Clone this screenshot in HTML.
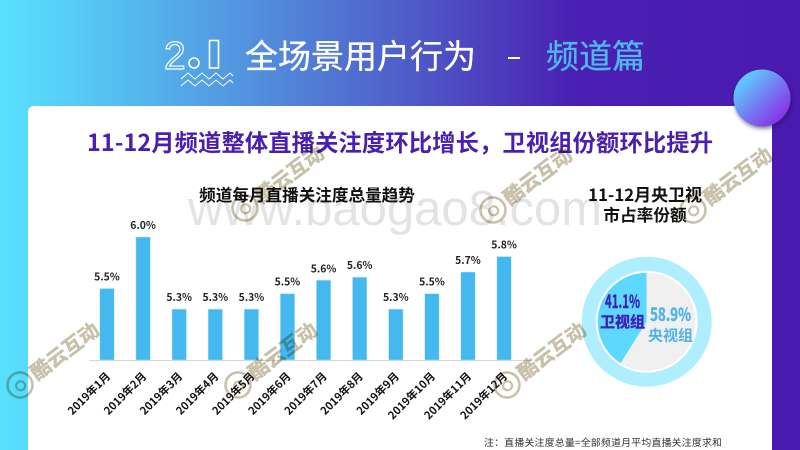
<!DOCTYPE html>
<html lang="zh-CN">
<head>
<meta charset="utf-8">
<title>全场景用户行为 - 频道篇</title>
<style>
html,body{margin:0;padding:0;width:800px;height:450px;overflow:hidden;background:#4a1ab0}
svg{display:block}
text{font-family:"Noto Sans CJK SC","Liberation Sans",sans-serif}
#watermarks,#siteWatermark{mix-blend-mode:multiply}
</style>
</head>
<body>
<svg id="stage" xmlns="http://www.w3.org/2000/svg" width="800" height="450" viewBox="0 0 800 450">
  <defs>
    <linearGradient id="bgGrad" x1="0" y1="0" x2="1" y2="0">
      <stop offset="0" stop-color="#58e2ff"/>
      <stop offset="0.15" stop-color="#55bdf0"/>
      <stop offset="0.5" stop-color="#4f5fc9"/>
      <stop offset="0.72" stop-color="#4a1fb2"/>
      <stop offset="1" stop-color="#4a1ab0"/>
    </linearGradient>
    <linearGradient id="ballGrad" x1="0.1" y1="0.1" x2="0.9" y2="0.9">
      <stop offset="0" stop-color="#5cd8ff"/>
      <stop offset="1" stop-color="#8a28e6"/>
    </linearGradient>
    <filter id="ballShadow" x="-30%" y="-30%" width="170%" height="170%">
      <feDropShadow dx="1" dy="2" stdDeviation="2" flood-color="#1a0a50" flood-opacity="0.6"/>
    </filter>
  </defs>

  <rect x="0" y="0" width="800" height="450" fill="url(#bgGrad)"/>

  <g fill="none" stroke="#fff">
    <text x="164" y="69" font-size="39" stroke-width="1.2" fill="none" stroke="#fff" style="font-family:'Liberation Sans',sans-serif">2</text>
    <circle cx="194" cy="63" r="5" stroke-width="1.6"/>
    <rect x="209.5" y="40.5" width="9" height="27.5" stroke-width="1.6"/>
    <polyline stroke-width="1" points="181,79 188,73 195,79 202,73 209,79 216,73 223,79 230,73 233,76"/>
    <polyline stroke-width="1" points="181,86 188,80 195,86 202,80 209,86 216,80 223,86 230,80 233,83"/>
  </g>

  <text x="245" y="68" font-size="33" fill="#ffffff" stroke="#ffffff" stroke-width="0.3">全场景用户行为</text>
  <rect x="508" y="57" width="12" height="2" fill="#ffffff"/>
  <text x="546" y="68" font-size="33" fill="#4fb6ee" stroke="#4fb6ee" stroke-width="0.3">频道篇</text>

  <rect x="28" y="106" width="744" height="360" rx="6" fill="#ffffff"/>
  <circle cx="762" cy="98" r="28.5" fill="url(#ballGrad)" filter="url(#ballShadow)"/>

  <text x="87" y="151" font-size="23.3" font-weight="700" fill="#4a1fb0" textLength="626" lengthAdjust="spacing">11-12月频道整体直播关注度环比增长&#xFF0C;卫视组份额环比提升</text>

  <text x="307" y="201" font-size="16.6" font-weight="700" fill="#111" text-anchor="middle">频道每月直播关注度总量趋势</text>
  <text x="588" y="201" font-size="17" font-weight="700" fill="#111" textLength="114" lengthAdjust="spacing">11-12月央卫视</text>
  <text x="645" y="221" font-size="16.7" font-weight="700" fill="#111" text-anchor="middle">市占率份额</text>

  <g id="barChart"></g>
  <g id="donutChart"></g>

  <text x="484" y="446" font-size="9.9" fill="#333" textLength="238" lengthAdjust="spacing">注&#xFF1A;直播关注度总量=全部频道月平均直播关注度求和</text>

  <text id="siteWatermark" x="188" y="225" font-size="49" fill="#888" fill-opacity="0.24" style="font-family:'Liberation Sans',sans-serif">www.baogao8.com</text>
  <g id="watermarks"></g>
</svg>

<script>
const categories = ["2019年1月","2019年2月","2019年3月","2019年4月","2019年5月","2019年6月","2019年7月","2019年8月","2019年9月","2019年10月","2019年11月","2019年12月"];
const seriesValues = [5.50,6.00,5.30,5.30,5.30,5.45,5.58,5.61,5.30,5.45,5.66,5.81];
const valueLabels = ["5.5%","6.0%","5.3%","5.3%","5.3%","5.5%","5.6%","5.6%","5.3%","5.5%","5.7%","5.8%"];
const shareNames = ["卫视组","央视组"];
const shareValues = [41.1,58.9];
const shareLabels = ["41.1%","58.9%"];

const NS = "http://www.w3.org/2000/svg";
function make(tag, attrs, parent, txt){
  const el = document.createElementNS(NS, tag);
  for (const k in attrs) el.setAttribute(k, attrs[k]);
  if (txt !== undefined) el.textContent = txt;
  parent.appendChild(el);
  return el;
}

/* axis functions */
const baseY = 360, domainMin = 4.806, pxPerUnit = 103;
function xScale(i){ return 107 + i * 36.1; }
function yScale(v){ return baseY - (v - domainMin) * pxPerUnit; }

const barChart = document.getElementById("barChart");
const barWidth = 14.4;

const axisLine = make("line", {x1:89, x2:532, y1:baseY+0.5, y2:baseY+0.5, stroke:"#d9d9d9", "stroke-width":1}, barChart);



seriesValues.forEach(function(v, i){
  const cx = xScale(i), top = yScale(v);
  const bar = make("rect", {x:cx-barWidth/2, y:top, width:barWidth, height:baseY-top, fill:"#45b8f0", stroke:"#bfe8f8", "stroke-width":0.5}, barChart);
  
  

  const val = make("text", {x:cx, y:top-8, "font-size":10.4, "font-weight":700, fill:"#222", "text-anchor":"middle"}, barChart, valueLabels[i]);
  
  

  const tx = cx + 4, ty = 377;
  const tick = make("text", {x:tx, y:ty, "font-size":11, "font-weight":700, fill:"#111", "text-anchor":"end", transform:"rotate(-45 "+tx+" "+ty+")"}, barChart, categories[i]);
  
  
});

/* donut */
const donut = document.getElementById("donutChart");
const dcx = 646.7, dcy = 321.7, pieR = 49;
const ring = make("circle", {cx:dcx, cy:dcy, r:58, fill:"none", stroke:"#aeeeff", "stroke-width":14}, donut);



const shareTotal = shareValues.reduce(function(a,b){return a+b;}, 0);
const sliceColors = ["#5dd8ff","#f0f0f0"];
let startAngle = 0;
shareValues.forEach(function(v, i){
  const sweep = v / shareTotal * Math.PI * 2;
  const endAngle = startAngle + sweep;
  /* slices run counter-clockwise from 12 o'clock */
  const x0 = dcx - Math.sin(startAngle) * pieR, y0 = dcy - Math.cos(startAngle) * pieR;
  const x1 = dcx - Math.sin(endAngle) * pieR, y1 = dcy - Math.cos(endAngle) * pieR;
  const large = sweep > Math.PI ? 1 : 0;
  const d = "M"+dcx+" "+dcy+" L"+x0+" "+y0+" A"+pieR+" "+pieR+" 0 "+large+" 0 "+x1+" "+y1+" Z";
  const slice = make("path", {d:d, fill:sliceColors[i]}, donut);
  
  
  startAngle = endAngle;
});

const labelX = [622.5, 670.5];
const pctY = [308, 321];
const nameY = [327, 340.5];
const pctWidth = [35, 41];
const labelFill = ["#3f1fb5","#4fb3ea"];
shareNames.forEach(function(name, i){
  const pct = make("text", {x:labelX[i], y:pctY[i], "font-size":18, "font-weight":700, fill:labelFill[i], "text-anchor":"middle", stroke:labelFill[i], "stroke-width":0.4, textLength:pctWidth[i], lengthAdjust:"spacingAndGlyphs"}, donut, shareLabels[i]);
  
  
  const nm = make("text", {x:labelX[i], y:nameY[i], "font-size":15, "font-weight":700, fill:labelFill[i], "text-anchor":"middle", stroke:labelFill[i], "stroke-width":i === 0 ? 0.4 : 0}, donut, name);
  
  
});

/* brand watermarks */
const wm = document.getElementById("watermarks");
const wmAnchors = [[20,385],[238,385],[507,385],[245,208],[493,210],[693,210]];
wmAnchors.forEach(function(p){
  const g = make("g", {transform:"translate("+p[0]+" "+p[1]+") rotate(-37)", opacity:0.95}, wm);
  
  
  const c1 = make("circle", {cx:0, cy:0, r:12.5, fill:"none", stroke:"#c6bea6", "stroke-width":2.6}, g);
  
  
  const c2 = make("circle", {cx:0, cy:1, r:4.5, fill:"none", stroke:"#c6bea6", "stroke-width":2.2}, g);
  
  
  const t = make("text", {x:16, y:7, "font-size":20, "font-weight":700, fill:"#c6bea6", stroke:"#c6bea6", "stroke-width":0.5}, g, "酷云互动");
  
  
});
</script>
</body>
</html>
